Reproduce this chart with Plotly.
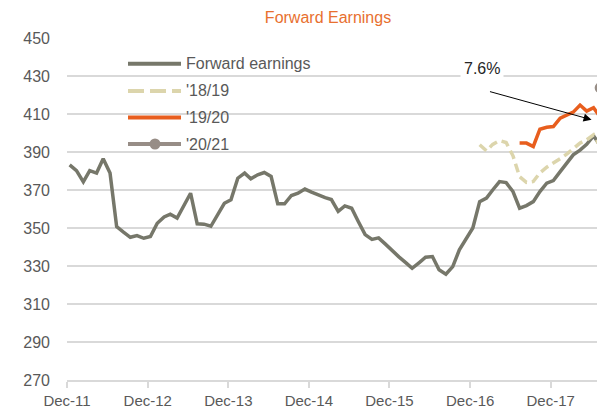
import plotly.graph_objects as go
import pandas as pd

# ---------------- data (monthly) ----------------
fwd_earnings = [
    383.2, 380.2, 374.3, 380.2, 378.9, 386.4, 378.9, 350.7, 347.8, 345.1,
    346.0, 344.6, 345.5, 352.5, 355.8, 357.3, 355.2, 361.7, 368.3, 352.2,
    352.0, 350.9, 357.0, 363.0, 364.8, 376.2, 378.9, 375.9, 378.0, 379.2,
    377.1, 362.7, 362.7, 367.1, 368.3, 370.5, 368.9, 367.3, 366.0, 365.0,
    358.8, 361.6, 360.4, 353.4, 346.5, 344.0, 344.8, 341.5, 338.0, 334.8,
    331.8, 328.8, 331.7, 334.6, 335.0, 328.0, 325.7, 329.7, 338.5, 344.2,
    350.0, 363.9, 365.7, 370.0, 374.4, 373.9, 369.2, 360.4, 361.8, 363.9,
    369.2, 373.6, 375.0, 379.7, 384.5, 388.5, 391.0, 394.0, 398.5, 393.5,
    392.0,
]
fy_18_19 = [393.8, 390.6, 394.0, 396.0, 395.0, 388.0, 377.0, 374.0, 374.5, 379.0,
            382.0, 384.0, 386.5, 389.0, 391.5, 394.7, 396.4, 399.0, 393.0, 391.0]
fy_19_20 = [394.7, 394.7, 392.9, 402.0, 403.0, 403.4, 407.8, 409.6, 411.0, 414.7,
            411.5, 413.3, 408.5, 408.0]
fy_20_21 = [423.8]

series_names = ["Forward earnings", "'18/19", "'19/20", "'20/21"]
start_18_19 = 61   # month index where each series begins
start_19_20 = 67
start_20_21 = 79

tick_dates = ["2011-12-01", "2012-12-01", "2013-12-01", "2014-12-01",
              "2015-12-01", "2016-12-01", "2017-12-01"]
tick_labels = ["Dec-11", "Dec-12", "Dec-13", "Dec-14", "Dec-15", "Dec-16", "Dec-17"]
y_ticks = list(range(270, 451, 20))

dates = pd.date_range(start="2011-12-13", periods=len(fwd_earnings),
                      freq=pd.DateOffset(months=1))

def sub(start, vals):
    return dates[start:start + len(vals)]

# ---------------- styles ----------------
C_FWD = "#76776A"
C_1819 = "#DCD5AC"
C_1920 = "#E85E1E"
C_2021 = "#978D86"
C_GRID = "#D9D9D9"
C_TEXT = "#595959"
FONT = "Liberation Sans, Arial, sans-serif"

fig = go.Figure()
fig.add_trace(go.Scatter(x=dates, y=fwd_earnings, mode="lines", name=series_names[0],
                         line=dict(color=C_FWD, width=3.5)))
fig.add_trace(go.Scatter(x=sub(start_18_19, fy_18_19), y=fy_18_19, mode="lines",
                         name=series_names[1],
                         line=dict(color=C_1819, width=3.5, dash="9px,5px")))
fig.add_trace(go.Scatter(x=sub(start_19_20, fy_19_20), y=fy_19_20, mode="lines",
                         name=series_names[2], line=dict(color=C_1920, width=3.5)))
fig.add_trace(go.Scatter(x=sub(start_20_21, fy_20_21), y=fy_20_21, mode="lines+markers",
                         name=series_names[3], line=dict(color=C_2021, width=3.5),
                         marker=dict(color=C_2021, size=11)))

# ---------------- layout ----------------
# the page body has an 8px margin, so the figure is drawn 8px in from the corner
OFF = 8
W, H = 605 - OFF, 413 - OFF
ML, MR, MT, MB = 67 - OFF, 0, 38 - OFF, 33
PW, PH = W - ML - MR, H - MT - MB

def xp(page_x):
    return (page_x - OFF - ML) / PW

def yp(page_y):
    return (H - MB - (page_y - OFF)) / PH

fig.update_layout(
    width=W, height=H,
    margin=dict(l=ML, r=MR, t=MT, b=MB, pad=0, autoexpand=False),
    paper_bgcolor="white", plot_bgcolor="white",
    showlegend=False,
    title=dict(text="Forward Earnings", x=(328 - OFF) / W, xanchor="center",
               y=1 - (17 - OFF) / H, yanchor="middle", automargin=False,
               font=dict(family=FONT, size=16, color="#E8702F")),
    font=dict(family=FONT, size=16, color=C_TEXT),
)
fig.update_xaxes(
    type="date", range=["2011-12-01", "2018-08-04"],
    tickvals=tick_dates, ticktext=tick_labels,
    showgrid=False, zeroline=False, automargin=False,
    showline=True, linecolor=C_GRID, linewidth=2,
    ticks="outside", ticklen=6, tickwidth=2, tickcolor=C_GRID,
    tickfont=dict(family=FONT, size=15, color=C_TEXT),
)
fig.update_yaxes(
    range=[270, 450], tickvals=y_ticks, automargin=False,
    showgrid=True, gridcolor=C_GRID, gridwidth=2,
    zeroline=False, showline=False, ticks="",
    ticklabelstandoff=16,
    tickfont=dict(family=FONT, size=16, color=C_TEXT),
)

# ---------------- custom legend ----------------
legend_rows = [63.7, 91.0, 117.5, 144.0]
legend_styles = [
    dict(color=C_FWD, width=4),
    dict(color=C_1819, width=4, dash="16px,6px"),
    dict(color=C_1920, width=4),
    dict(color=C_2021, width=4),
]
for name, row, st in zip(series_names, legend_rows, legend_styles):
    fig.add_shape(type="line", xref="paper", yref="paper",
                  x0=xp(128), x1=xp(181), y0=yp(row), y1=yp(row), line=st)
    fig.add_annotation(xref="paper", yref="paper", x=xp(184), y=yp(row),
                       text=name, showarrow=False, xanchor="left", yanchor="middle",
                       font=dict(family=FONT, size=16, color=C_TEXT))
fig.add_shape(type="circle", xref="paper", yref="paper",
              x0=xp(149.5), x1=xp(160.5), y0=yp(legend_rows[3] + 5.5),
              y1=yp(legend_rows[3] - 5.5),
              fillcolor=C_2021, line=dict(width=0))

# ---------------- annotations ----------------
fig.add_annotation(x="2018-06-04", y=407, ax="2017-02-22", ay=422,
                   xref="x", yref="y", axref="x", ayref="y",
                   showarrow=True, arrowhead=2, arrowsize=1.6, arrowwidth=1,
                   arrowcolor="black", text="")
fig.add_annotation(x="2017-01-25", y=433.8, xref="x", yref="y",
                   text="7.6%", showarrow=False, bgcolor="white",
                   borderpad=3,
                   font=dict(family=FONT, size=16, color="#262626"))

fig.write_html("out.html")
